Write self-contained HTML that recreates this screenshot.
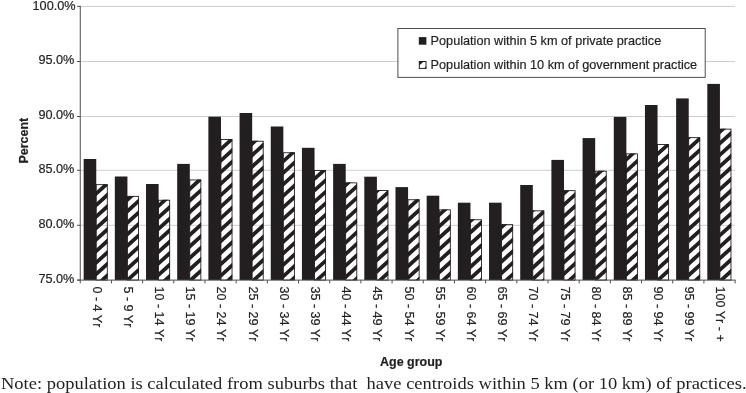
<!DOCTYPE html>
<html><head><meta charset="utf-8"><title>Chart</title>
<style>html,body{margin:0;padding:0;background:#fff}svg{display:block}text{font-family:"Liberation Sans",sans-serif;fill:#231f20;stroke:#231f20;stroke-width:0.2px}</style></head>
<body>
<svg width="746" height="393" viewBox="0 0 746 393">
<rect width="746" height="393" fill="#fff"/>
<line x1="80.25" y1="6.36" x2="735.10" y2="6.36" stroke="#c2c2c2" stroke-width="0.8"/>
<line x1="80.25" y1="61.50" x2="735.10" y2="61.50" stroke="#c2c2c2" stroke-width="0.8"/>
<line x1="80.25" y1="116.50" x2="735.10" y2="116.50" stroke="#c2c2c2" stroke-width="0.8"/>
<line x1="80.25" y1="170.30" x2="735.10" y2="170.30" stroke="#c2c2c2" stroke-width="0.8"/>
<line x1="80.25" y1="225.30" x2="735.10" y2="225.30" stroke="#c2c2c2" stroke-width="0.8"/>
<clipPath id="c0"><rect x="95.75" y="184.20" width="12.00" height="95.90"/></clipPath>
<path clip-path="url(#c0)" d="M95.75 157.00L107.75 146.07L107.75 151.17L95.75 162.10zM95.75 168.50L107.75 157.57L107.75 162.67L95.75 173.60zM95.75 180.00L107.75 169.07L107.75 174.17L95.75 185.10zM95.75 191.50L107.75 180.57L107.75 185.67L95.75 196.60zM95.75 203.00L107.75 192.07L107.75 197.17L95.75 208.10zM95.75 214.50L107.75 203.57L107.75 208.67L95.75 219.60zM95.75 226.00L107.75 215.07L107.75 220.17L95.75 231.10zM95.75 237.50L107.75 226.57L107.75 231.67L95.75 242.60zM95.75 249.00L107.75 238.07L107.75 243.17L95.75 254.10zM95.75 260.50L107.75 249.57L107.75 254.67L95.75 265.60zM95.75 272.00L107.75 261.07L107.75 266.17L95.75 277.10zM95.75 283.50L107.75 272.57L107.75 277.67L95.75 288.60z" fill="#231f20"/>
<rect x="96.20" y="184.65" width="11.10" height="95.45" fill="none" stroke="#231f20" stroke-width="0.9"/>
<rect x="83.65" y="159.00" width="12.60" height="121.10" fill="#231f20"/>
<clipPath id="c1"><rect x="126.93" y="195.90" width="12.00" height="84.20"/></clipPath>
<path clip-path="url(#c1)" d="M126.93 174.61L138.93 163.68L138.93 168.78L126.93 179.71zM126.93 186.11L138.93 175.18L138.93 180.28L126.93 191.21zM126.93 197.61L138.93 186.68L138.93 191.78L126.93 202.71zM126.93 209.11L138.93 198.18L138.93 203.28L126.93 214.21zM126.93 220.61L138.93 209.68L138.93 214.78L126.93 225.71zM126.93 232.11L138.93 221.18L138.93 226.28L126.93 237.21zM126.93 243.61L138.93 232.68L138.93 237.78L126.93 248.71zM126.93 255.11L138.93 244.18L138.93 249.28L126.93 260.21zM126.93 266.61L138.93 255.68L138.93 260.78L126.93 271.71zM126.93 278.11L138.93 267.18L138.93 272.28L126.93 283.21zM126.93 289.61L138.93 278.68L138.93 283.78L126.93 294.71z" fill="#231f20"/>
<rect x="127.38" y="196.35" width="11.10" height="83.75" fill="none" stroke="#231f20" stroke-width="0.9"/>
<rect x="114.83" y="176.50" width="12.60" height="103.60" fill="#231f20"/>
<clipPath id="c2"><rect x="158.12" y="199.80" width="12.00" height="80.30"/></clipPath>
<path clip-path="url(#c2)" d="M158.12 180.72L170.12 169.79L170.12 174.89L158.12 185.82zM158.12 192.22L170.12 181.29L170.12 186.39L158.12 197.32zM158.12 203.72L170.12 192.79L170.12 197.89L158.12 208.82zM158.12 215.22L170.12 204.29L170.12 209.39L158.12 220.32zM158.12 226.72L170.12 215.79L170.12 220.89L158.12 231.82zM158.12 238.22L170.12 227.29L170.12 232.39L158.12 243.32zM158.12 249.72L170.12 238.79L170.12 243.89L158.12 254.82zM158.12 261.22L170.12 250.29L170.12 255.39L158.12 266.32zM158.12 272.72L170.12 261.79L170.12 266.89L158.12 277.82zM158.12 284.22L170.12 273.29L170.12 278.39L158.12 289.32z" fill="#231f20"/>
<rect x="158.57" y="200.25" width="11.10" height="79.85" fill="none" stroke="#231f20" stroke-width="0.9"/>
<rect x="146.02" y="184.00" width="12.60" height="96.10" fill="#231f20"/>
<clipPath id="c3"><rect x="189.30" y="179.50" width="12.00" height="100.60"/></clipPath>
<path clip-path="url(#c3)" d="M189.30 152.33L201.30 141.40L201.30 146.50L189.30 157.43zM189.30 163.83L201.30 152.90L201.30 158.00L189.30 168.93zM189.30 175.33L201.30 164.40L201.30 169.50L189.30 180.43zM189.30 186.83L201.30 175.90L201.30 181.00L189.30 191.93zM189.30 198.33L201.30 187.40L201.30 192.50L189.30 203.43zM189.30 209.83L201.30 198.90L201.30 204.00L189.30 214.93zM189.30 221.33L201.30 210.40L201.30 215.50L189.30 226.43zM189.30 232.83L201.30 221.90L201.30 227.00L189.30 237.93zM189.30 244.33L201.30 233.40L201.30 238.50L189.30 249.43zM189.30 255.83L201.30 244.90L201.30 250.00L189.30 260.93zM189.30 267.33L201.30 256.40L201.30 261.50L189.30 272.43zM189.30 278.83L201.30 267.90L201.30 273.00L189.30 283.93zM189.30 290.33L201.30 279.40L201.30 284.50L189.30 295.43z" fill="#231f20"/>
<rect x="189.75" y="179.95" width="11.10" height="100.15" fill="none" stroke="#231f20" stroke-width="0.9"/>
<rect x="177.20" y="163.90" width="12.60" height="116.20" fill="#231f20"/>
<clipPath id="c4"><rect x="220.48" y="139.10" width="12.00" height="141.00"/></clipPath>
<path clip-path="url(#c4)" d="M220.48 112.44L232.48 101.51L232.48 106.61L220.48 117.54zM220.48 123.94L232.48 113.01L232.48 118.11L220.48 129.04zM220.48 135.44L232.48 124.51L232.48 129.61L220.48 140.54zM220.48 146.94L232.48 136.01L232.48 141.11L220.48 152.04zM220.48 158.44L232.48 147.51L232.48 152.61L220.48 163.54zM220.48 169.94L232.48 159.01L232.48 164.11L220.48 175.04zM220.48 181.44L232.48 170.51L232.48 175.61L220.48 186.54zM220.48 192.94L232.48 182.01L232.48 187.11L220.48 198.04zM220.48 204.44L232.48 193.51L232.48 198.61L220.48 209.54zM220.48 215.94L232.48 205.01L232.48 210.11L220.48 221.04zM220.48 227.44L232.48 216.51L232.48 221.61L220.48 232.54zM220.48 238.94L232.48 228.01L232.48 233.11L220.48 244.04zM220.48 250.44L232.48 239.51L232.48 244.61L220.48 255.54zM220.48 261.94L232.48 251.01L232.48 256.11L220.48 267.04zM220.48 273.44L232.48 262.51L232.48 267.61L220.48 278.54zM220.48 284.94L232.48 274.01L232.48 279.11L220.48 290.04z" fill="#231f20"/>
<rect x="220.93" y="139.55" width="11.10" height="140.55" fill="none" stroke="#231f20" stroke-width="0.9"/>
<rect x="208.38" y="116.70" width="12.60" height="163.40" fill="#231f20"/>
<clipPath id="c5"><rect x="251.67" y="140.80" width="12.00" height="139.30"/></clipPath>
<path clip-path="url(#c5)" d="M251.67 118.55L263.67 107.62L263.67 112.72L251.67 123.65zM251.67 130.05L263.67 119.12L263.67 124.22L251.67 135.15zM251.67 141.55L263.67 130.62L263.67 135.72L251.67 146.65zM251.67 153.05L263.67 142.12L263.67 147.22L251.67 158.15zM251.67 164.55L263.67 153.62L263.67 158.72L251.67 169.65zM251.67 176.05L263.67 165.12L263.67 170.22L251.67 181.15zM251.67 187.55L263.67 176.62L263.67 181.72L251.67 192.65zM251.67 199.05L263.67 188.12L263.67 193.22L251.67 204.15zM251.67 210.55L263.67 199.62L263.67 204.72L251.67 215.65zM251.67 222.05L263.67 211.12L263.67 216.22L251.67 227.15zM251.67 233.55L263.67 222.62L263.67 227.72L251.67 238.65zM251.67 245.05L263.67 234.12L263.67 239.22L251.67 250.15zM251.67 256.55L263.67 245.62L263.67 250.72L251.67 261.65zM251.67 268.05L263.67 257.12L263.67 262.22L251.67 273.15zM251.67 279.55L263.67 268.62L263.67 273.72L251.67 284.65zM251.67 291.05L263.67 280.12L263.67 285.22L251.67 296.15z" fill="#231f20"/>
<rect x="252.12" y="141.25" width="11.10" height="138.85" fill="none" stroke="#231f20" stroke-width="0.9"/>
<rect x="239.57" y="113.00" width="12.60" height="167.10" fill="#231f20"/>
<clipPath id="c6"><rect x="282.85" y="152.30" width="12.00" height="127.80"/></clipPath>
<path clip-path="url(#c6)" d="M282.85 124.66L294.85 113.73L294.85 118.83L282.85 129.76zM282.85 136.16L294.85 125.23L294.85 130.33L282.85 141.26zM282.85 147.66L294.85 136.73L294.85 141.83L282.85 152.76zM282.85 159.16L294.85 148.23L294.85 153.33L282.85 164.26zM282.85 170.66L294.85 159.73L294.85 164.83L282.85 175.76zM282.85 182.16L294.85 171.23L294.85 176.33L282.85 187.26zM282.85 193.66L294.85 182.73L294.85 187.83L282.85 198.76zM282.85 205.16L294.85 194.23L294.85 199.33L282.85 210.26zM282.85 216.66L294.85 205.73L294.85 210.83L282.85 221.76zM282.85 228.16L294.85 217.23L294.85 222.33L282.85 233.26zM282.85 239.66L294.85 228.73L294.85 233.83L282.85 244.76zM282.85 251.16L294.85 240.23L294.85 245.33L282.85 256.26zM282.85 262.66L294.85 251.73L294.85 256.83L282.85 267.76zM282.85 274.16L294.85 263.23L294.85 268.33L282.85 279.26zM282.85 285.66L294.85 274.73L294.85 279.83L282.85 290.76z" fill="#231f20"/>
<rect x="283.30" y="152.75" width="11.10" height="127.35" fill="none" stroke="#231f20" stroke-width="0.9"/>
<rect x="270.75" y="126.50" width="12.60" height="153.60" fill="#231f20"/>
<clipPath id="c7"><rect x="314.03" y="170.00" width="12.00" height="110.10"/></clipPath>
<path clip-path="url(#c7)" d="M314.03 142.27L326.03 131.35L326.03 136.45L314.03 147.37zM314.03 153.77L326.03 142.85L326.03 147.95L314.03 158.87zM314.03 165.27L326.03 154.35L326.03 159.45L314.03 170.37zM314.03 176.77L326.03 165.85L326.03 170.95L314.03 181.87zM314.03 188.27L326.03 177.35L326.03 182.45L314.03 193.37zM314.03 199.77L326.03 188.85L326.03 193.95L314.03 204.87zM314.03 211.27L326.03 200.35L326.03 205.45L314.03 216.37zM314.03 222.77L326.03 211.85L326.03 216.95L314.03 227.87zM314.03 234.27L326.03 223.35L326.03 228.45L314.03 239.37zM314.03 245.77L326.03 234.85L326.03 239.95L314.03 250.87zM314.03 257.27L326.03 246.35L326.03 251.45L314.03 262.37zM314.03 268.77L326.03 257.85L326.03 262.95L314.03 273.87zM314.03 280.27L326.03 269.35L326.03 274.45L314.03 285.37zM314.03 291.77L326.03 280.85L326.03 285.95L314.03 296.87z" fill="#231f20"/>
<rect x="314.48" y="170.45" width="11.10" height="109.65" fill="none" stroke="#231f20" stroke-width="0.9"/>
<rect x="301.93" y="147.80" width="12.60" height="132.30" fill="#231f20"/>
<clipPath id="c8"><rect x="345.22" y="182.40" width="12.00" height="97.70"/></clipPath>
<path clip-path="url(#c8)" d="M345.22 159.88L357.22 148.96L357.22 154.06L345.22 164.98zM345.22 171.38L357.22 160.46L357.22 165.56L345.22 176.48zM345.22 182.88L357.22 171.96L357.22 177.06L345.22 187.98zM345.22 194.38L357.22 183.46L357.22 188.56L345.22 199.48zM345.22 205.88L357.22 194.96L357.22 200.06L345.22 210.98zM345.22 217.38L357.22 206.46L357.22 211.56L345.22 222.48zM345.22 228.88L357.22 217.96L357.22 223.06L345.22 233.98zM345.22 240.38L357.22 229.46L357.22 234.56L345.22 245.48zM345.22 251.88L357.22 240.96L357.22 246.06L345.22 256.98zM345.22 263.38L357.22 252.46L357.22 257.56L345.22 268.48zM345.22 274.88L357.22 263.96L357.22 269.06L345.22 279.98zM345.22 286.38L357.22 275.46L357.22 280.56L345.22 291.48z" fill="#231f20"/>
<rect x="345.67" y="182.85" width="11.10" height="97.25" fill="none" stroke="#231f20" stroke-width="0.9"/>
<rect x="333.12" y="163.90" width="12.60" height="116.20" fill="#231f20"/>
<clipPath id="c9"><rect x="376.40" y="190.10" width="12.00" height="90.00"/></clipPath>
<path clip-path="url(#c9)" d="M376.40 165.99L388.40 155.07L388.40 160.17L376.40 171.09zM376.40 177.49L388.40 166.57L388.40 171.67L376.40 182.59zM376.40 188.99L388.40 178.07L388.40 183.17L376.40 194.09zM376.40 200.49L388.40 189.57L388.40 194.67L376.40 205.59zM376.40 211.99L388.40 201.07L388.40 206.17L376.40 217.09zM376.40 223.49L388.40 212.57L388.40 217.67L376.40 228.59zM376.40 234.99L388.40 224.07L388.40 229.17L376.40 240.09zM376.40 246.49L388.40 235.57L388.40 240.67L376.40 251.59zM376.40 257.99L388.40 247.07L388.40 252.17L376.40 263.09zM376.40 269.49L388.40 258.57L388.40 263.67L376.40 274.59zM376.40 280.99L388.40 270.07L388.40 275.17L376.40 286.09zM376.40 292.49L388.40 281.57L388.40 286.67L376.40 297.59z" fill="#231f20"/>
<rect x="376.85" y="190.55" width="11.10" height="89.55" fill="none" stroke="#231f20" stroke-width="0.9"/>
<rect x="364.30" y="176.70" width="12.60" height="103.40" fill="#231f20"/>
<clipPath id="c10"><rect x="407.58" y="199.30" width="12.00" height="80.80"/></clipPath>
<path clip-path="url(#c10)" d="M407.58 172.10L419.58 161.18L419.58 166.28L407.58 177.20zM407.58 183.60L419.58 172.68L419.58 177.78L407.58 188.70zM407.58 195.10L419.58 184.18L419.58 189.28L407.58 200.20zM407.58 206.60L419.58 195.68L419.58 200.78L407.58 211.70zM407.58 218.10L419.58 207.18L419.58 212.28L407.58 223.20zM407.58 229.60L419.58 218.68L419.58 223.78L407.58 234.70zM407.58 241.10L419.58 230.18L419.58 235.28L407.58 246.20zM407.58 252.60L419.58 241.68L419.58 246.78L407.58 257.70zM407.58 264.10L419.58 253.18L419.58 258.28L407.58 269.20zM407.58 275.60L419.58 264.68L419.58 269.78L407.58 280.70zM407.58 287.10L419.58 276.18L419.58 281.28L407.58 292.20z" fill="#231f20"/>
<rect x="408.03" y="199.75" width="11.10" height="80.35" fill="none" stroke="#231f20" stroke-width="0.9"/>
<rect x="395.48" y="187.10" width="12.60" height="93.00" fill="#231f20"/>
<clipPath id="c11"><rect x="438.77" y="209.40" width="12.00" height="70.70"/></clipPath>
<path clip-path="url(#c11)" d="M438.77 189.71L450.77 178.79L450.77 183.89L438.77 194.81zM438.77 201.21L450.77 190.29L450.77 195.39L438.77 206.31zM438.77 212.71L450.77 201.79L450.77 206.89L438.77 217.81zM438.77 224.21L450.77 213.29L450.77 218.39L438.77 229.31zM438.77 235.71L450.77 224.79L450.77 229.89L438.77 240.81zM438.77 247.21L450.77 236.29L450.77 241.39L438.77 252.31zM438.77 258.71L450.77 247.79L450.77 252.89L438.77 263.81zM438.77 270.21L450.77 259.29L450.77 264.39L438.77 275.31zM438.77 281.71L450.77 270.79L450.77 275.89L438.77 286.81z" fill="#231f20"/>
<rect x="439.22" y="209.85" width="11.10" height="70.25" fill="none" stroke="#231f20" stroke-width="0.9"/>
<rect x="426.67" y="195.70" width="12.60" height="84.40" fill="#231f20"/>
<clipPath id="c12"><rect x="469.95" y="219.30" width="12.00" height="60.80"/></clipPath>
<path clip-path="url(#c12)" d="M469.95 195.82L481.95 184.90L481.95 190.00L469.95 200.92zM469.95 207.32L481.95 196.40L481.95 201.50L469.95 212.42zM469.95 218.82L481.95 207.90L481.95 213.00L469.95 223.92zM469.95 230.32L481.95 219.40L481.95 224.50L469.95 235.42zM469.95 241.82L481.95 230.90L481.95 236.00L469.95 246.92zM469.95 253.32L481.95 242.40L481.95 247.50L469.95 258.42zM469.95 264.82L481.95 253.90L481.95 259.00L469.95 269.92zM469.95 276.32L481.95 265.40L481.95 270.50L469.95 281.42zM469.95 287.82L481.95 276.90L481.95 282.00L469.95 292.92z" fill="#231f20"/>
<rect x="470.40" y="219.75" width="11.10" height="60.35" fill="none" stroke="#231f20" stroke-width="0.9"/>
<rect x="457.85" y="202.70" width="12.60" height="77.40" fill="#231f20"/>
<clipPath id="c13"><rect x="501.13" y="224.20" width="12.00" height="55.90"/></clipPath>
<path clip-path="url(#c13)" d="M501.13 201.93L513.13 191.01L513.13 196.11L501.13 207.03zM501.13 213.43L513.13 202.51L513.13 207.61L501.13 218.53zM501.13 224.93L513.13 214.01L513.13 219.11L501.13 230.03zM501.13 236.43L513.13 225.51L513.13 230.61L501.13 241.53zM501.13 247.93L513.13 237.01L513.13 242.11L501.13 253.03zM501.13 259.43L513.13 248.51L513.13 253.61L501.13 264.53zM501.13 270.93L513.13 260.01L513.13 265.11L501.13 276.03zM501.13 282.43L513.13 271.51L513.13 276.61L501.13 287.53z" fill="#231f20"/>
<rect x="501.58" y="224.65" width="11.10" height="55.45" fill="none" stroke="#231f20" stroke-width="0.9"/>
<rect x="489.03" y="202.70" width="12.60" height="77.40" fill="#231f20"/>
<clipPath id="c14"><rect x="532.32" y="210.40" width="12.00" height="69.70"/></clipPath>
<path clip-path="url(#c14)" d="M532.32 185.05L544.32 174.12L544.32 179.22L532.32 190.15zM532.32 196.55L544.32 185.62L544.32 190.72L532.32 201.65zM532.32 208.05L544.32 197.12L544.32 202.22L532.32 213.15zM532.32 219.55L544.32 208.62L544.32 213.72L532.32 224.65zM532.32 231.05L544.32 220.12L544.32 225.22L532.32 236.15zM532.32 242.55L544.32 231.62L544.32 236.72L532.32 247.65zM532.32 254.05L544.32 243.12L544.32 248.22L532.32 259.15zM532.32 265.55L544.32 254.62L544.32 259.72L532.32 270.65zM532.32 277.05L544.32 266.12L544.32 271.22L532.32 282.15zM532.32 288.55L544.32 277.62L544.32 282.72L532.32 293.65z" fill="#231f20"/>
<rect x="532.77" y="210.85" width="11.10" height="69.25" fill="none" stroke="#231f20" stroke-width="0.9"/>
<rect x="520.22" y="185.00" width="12.60" height="95.10" fill="#231f20"/>
<clipPath id="c15"><rect x="563.50" y="190.20" width="12.00" height="89.90"/></clipPath>
<path clip-path="url(#c15)" d="M563.50 168.16L575.50 157.23L575.50 162.33L563.50 173.26zM563.50 179.66L575.50 168.73L575.50 173.83L563.50 184.76zM563.50 191.16L575.50 180.23L575.50 185.33L563.50 196.26zM563.50 202.66L575.50 191.73L575.50 196.83L563.50 207.76zM563.50 214.16L575.50 203.23L575.50 208.33L563.50 219.26zM563.50 225.66L575.50 214.73L575.50 219.83L563.50 230.76zM563.50 237.16L575.50 226.23L575.50 231.33L563.50 242.26zM563.50 248.66L575.50 237.73L575.50 242.83L563.50 253.76zM563.50 260.16L575.50 249.23L575.50 254.33L563.50 265.26zM563.50 271.66L575.50 260.73L575.50 265.83L563.50 276.76zM563.50 283.16L575.50 272.23L575.50 277.33L563.50 288.26z" fill="#231f20"/>
<rect x="563.95" y="190.65" width="11.10" height="89.45" fill="none" stroke="#231f20" stroke-width="0.9"/>
<rect x="551.40" y="159.90" width="12.60" height="120.20" fill="#231f20"/>
<clipPath id="c16"><rect x="594.68" y="170.80" width="12.00" height="109.30"/></clipPath>
<path clip-path="url(#c16)" d="M594.68 151.27L606.68 140.34L606.68 145.44L594.68 156.37zM594.68 162.77L606.68 151.84L606.68 156.94L594.68 167.87zM594.68 174.27L606.68 163.34L606.68 168.44L594.68 179.37zM594.68 185.77L606.68 174.84L606.68 179.94L594.68 190.87zM594.68 197.27L606.68 186.34L606.68 191.44L594.68 202.37zM594.68 208.77L606.68 197.84L606.68 202.94L594.68 213.87zM594.68 220.27L606.68 209.34L606.68 214.44L594.68 225.37zM594.68 231.77L606.68 220.84L606.68 225.94L594.68 236.87zM594.68 243.27L606.68 232.34L606.68 237.44L594.68 248.37zM594.68 254.77L606.68 243.84L606.68 248.94L594.68 259.87zM594.68 266.27L606.68 255.34L606.68 260.44L594.68 271.37zM594.68 277.77L606.68 266.84L606.68 271.94L594.68 282.87zM594.68 289.27L606.68 278.34L606.68 283.44L594.68 294.37z" fill="#231f20"/>
<rect x="595.13" y="171.25" width="11.10" height="108.85" fill="none" stroke="#231f20" stroke-width="0.9"/>
<rect x="582.58" y="138.10" width="12.60" height="142.00" fill="#231f20"/>
<clipPath id="c17"><rect x="625.87" y="153.40" width="12.00" height="126.70"/></clipPath>
<path clip-path="url(#c17)" d="M625.87 134.38L637.87 123.45L637.87 128.55L625.87 139.48zM625.87 145.88L637.87 134.95L637.87 140.05L625.87 150.98zM625.87 157.38L637.87 146.45L637.87 151.55L625.87 162.48zM625.87 168.88L637.87 157.95L637.87 163.05L625.87 173.98zM625.87 180.38L637.87 169.45L637.87 174.55L625.87 185.48zM625.87 191.88L637.87 180.95L637.87 186.05L625.87 196.98zM625.87 203.38L637.87 192.45L637.87 197.55L625.87 208.48zM625.87 214.88L637.87 203.95L637.87 209.05L625.87 219.98zM625.87 226.38L637.87 215.45L637.87 220.55L625.87 231.48zM625.87 237.88L637.87 226.95L637.87 232.05L625.87 242.98zM625.87 249.38L637.87 238.45L637.87 243.55L625.87 254.48zM625.87 260.88L637.87 249.95L637.87 255.05L625.87 265.98zM625.87 272.38L637.87 261.45L637.87 266.55L625.87 277.48zM625.87 283.88L637.87 272.95L637.87 278.05L625.87 288.98z" fill="#231f20"/>
<rect x="626.32" y="153.85" width="11.10" height="126.25" fill="none" stroke="#231f20" stroke-width="0.9"/>
<rect x="613.77" y="116.90" width="12.60" height="163.20" fill="#231f20"/>
<clipPath id="c18"><rect x="657.05" y="144.00" width="12.00" height="136.10"/></clipPath>
<path clip-path="url(#c18)" d="M657.05 117.49L669.05 106.56L669.05 111.66L657.05 122.59zM657.05 128.99L669.05 118.06L669.05 123.16L657.05 134.09zM657.05 140.49L669.05 129.56L669.05 134.66L657.05 145.59zM657.05 151.99L669.05 141.06L669.05 146.16L657.05 157.09zM657.05 163.49L669.05 152.56L669.05 157.66L657.05 168.59zM657.05 174.99L669.05 164.06L669.05 169.16L657.05 180.09zM657.05 186.49L669.05 175.56L669.05 180.66L657.05 191.59zM657.05 197.99L669.05 187.06L669.05 192.16L657.05 203.09zM657.05 209.49L669.05 198.56L669.05 203.66L657.05 214.59zM657.05 220.99L669.05 210.06L669.05 215.16L657.05 226.09zM657.05 232.49L669.05 221.56L669.05 226.66L657.05 237.59zM657.05 243.99L669.05 233.06L669.05 238.16L657.05 249.09zM657.05 255.49L669.05 244.56L669.05 249.66L657.05 260.59zM657.05 266.99L669.05 256.06L669.05 261.16L657.05 272.09zM657.05 278.49L669.05 267.56L669.05 272.66L657.05 283.59zM657.05 289.99L669.05 279.06L669.05 284.16L657.05 295.09z" fill="#231f20"/>
<rect x="657.50" y="144.45" width="11.10" height="135.65" fill="none" stroke="#231f20" stroke-width="0.9"/>
<rect x="644.95" y="105.00" width="12.60" height="175.10" fill="#231f20"/>
<clipPath id="c19"><rect x="688.23" y="137.20" width="12.00" height="142.90"/></clipPath>
<path clip-path="url(#c19)" d="M688.23 112.10L700.23 101.17L700.23 106.27L688.23 117.20zM688.23 123.60L700.23 112.67L700.23 117.77L688.23 128.70zM688.23 135.10L700.23 124.17L700.23 129.27L688.23 140.20zM688.23 146.60L700.23 135.67L700.23 140.77L688.23 151.70zM688.23 158.10L700.23 147.17L700.23 152.27L688.23 163.20zM688.23 169.60L700.23 158.67L700.23 163.77L688.23 174.70zM688.23 181.10L700.23 170.17L700.23 175.27L688.23 186.20zM688.23 192.60L700.23 181.67L700.23 186.77L688.23 197.70zM688.23 204.10L700.23 193.17L700.23 198.27L688.23 209.20zM688.23 215.60L700.23 204.67L700.23 209.77L688.23 220.70zM688.23 227.10L700.23 216.17L700.23 221.27L688.23 232.20zM688.23 238.60L700.23 227.67L700.23 232.77L688.23 243.70zM688.23 250.10L700.23 239.17L700.23 244.27L688.23 255.20zM688.23 261.60L700.23 250.67L700.23 255.77L688.23 266.70zM688.23 273.10L700.23 262.17L700.23 267.27L688.23 278.20zM688.23 284.60L700.23 273.67L700.23 278.77L688.23 289.70z" fill="#231f20"/>
<rect x="688.68" y="137.65" width="11.10" height="142.45" fill="none" stroke="#231f20" stroke-width="0.9"/>
<rect x="676.13" y="98.40" width="12.60" height="181.70" fill="#231f20"/>
<clipPath id="c20"><rect x="719.42" y="128.70" width="12.00" height="151.40"/></clipPath>
<path clip-path="url(#c20)" d="M719.42 106.71L731.42 95.78L731.42 100.88L719.42 111.81zM719.42 118.21L731.42 107.28L731.42 112.38L719.42 123.31zM719.42 129.71L731.42 118.78L731.42 123.88L719.42 134.81zM719.42 141.21L731.42 130.28L731.42 135.38L719.42 146.31zM719.42 152.71L731.42 141.78L731.42 146.88L719.42 157.81zM719.42 164.21L731.42 153.28L731.42 158.38L719.42 169.31zM719.42 175.71L731.42 164.78L731.42 169.88L719.42 180.81zM719.42 187.21L731.42 176.28L731.42 181.38L719.42 192.31zM719.42 198.71L731.42 187.78L731.42 192.88L719.42 203.81zM719.42 210.21L731.42 199.28L731.42 204.38L719.42 215.31zM719.42 221.71L731.42 210.78L731.42 215.88L719.42 226.81zM719.42 233.21L731.42 222.28L731.42 227.38L719.42 238.31zM719.42 244.71L731.42 233.78L731.42 238.88L719.42 249.81zM719.42 256.21L731.42 245.28L731.42 250.38L719.42 261.31zM719.42 267.71L731.42 256.78L731.42 261.88L719.42 272.81zM719.42 279.21L731.42 268.28L731.42 273.38L719.42 284.31zM719.42 290.71L731.42 279.78L731.42 284.88L719.42 295.81z" fill="#231f20"/>
<rect x="719.87" y="129.15" width="11.10" height="150.95" fill="none" stroke="#231f20" stroke-width="0.9"/>
<rect x="707.32" y="83.90" width="12.60" height="196.20" fill="#231f20"/>
<line x1="80.25" y1="5.85" x2="80.25" y2="280.60" stroke="#4d4d4f" stroke-width="1"/>
<line x1="77.05" y1="280.10" x2="735.60" y2="280.10" stroke="#4d4d4f" stroke-width="1"/>
<line x1="77.05" y1="6.36" x2="80.25" y2="6.36" stroke="#4d4d4f" stroke-width="1"/>
<text x="75.60" y="9.76" font-size="12.7" text-anchor="end">100.0%</text>
<line x1="77.05" y1="61.50" x2="80.25" y2="61.50" stroke="#4d4d4f" stroke-width="1"/>
<text x="74.40" y="64.30" font-size="12.7" text-anchor="end">95.0%</text>
<line x1="77.05" y1="116.50" x2="80.25" y2="116.50" stroke="#4d4d4f" stroke-width="1"/>
<text x="74.40" y="119.30" font-size="12.7" text-anchor="end">90.0%</text>
<line x1="77.05" y1="170.30" x2="80.25" y2="170.30" stroke="#4d4d4f" stroke-width="1"/>
<text x="74.40" y="173.10" font-size="12.7" text-anchor="end">85.0%</text>
<line x1="77.05" y1="225.30" x2="80.25" y2="225.30" stroke="#4d4d4f" stroke-width="1"/>
<text x="74.40" y="228.10" font-size="12.7" text-anchor="end">80.0%</text>
<line x1="77.05" y1="280.10" x2="80.25" y2="280.10" stroke="#4d4d4f" stroke-width="1"/>
<text x="74.40" y="282.90" font-size="12.7" text-anchor="end">75.0%</text>
<line x1="80.25" y1="280.10" x2="80.25" y2="283.40" stroke="#4d4d4f" stroke-width="1"/>
<line x1="111.43" y1="280.10" x2="111.43" y2="283.40" stroke="#4d4d4f" stroke-width="1"/>
<line x1="142.62" y1="280.10" x2="142.62" y2="283.40" stroke="#4d4d4f" stroke-width="1"/>
<line x1="173.80" y1="280.10" x2="173.80" y2="283.40" stroke="#4d4d4f" stroke-width="1"/>
<line x1="204.98" y1="280.10" x2="204.98" y2="283.40" stroke="#4d4d4f" stroke-width="1"/>
<line x1="236.17" y1="280.10" x2="236.17" y2="283.40" stroke="#4d4d4f" stroke-width="1"/>
<line x1="267.35" y1="280.10" x2="267.35" y2="283.40" stroke="#4d4d4f" stroke-width="1"/>
<line x1="298.53" y1="280.10" x2="298.53" y2="283.40" stroke="#4d4d4f" stroke-width="1"/>
<line x1="329.72" y1="280.10" x2="329.72" y2="283.40" stroke="#4d4d4f" stroke-width="1"/>
<line x1="360.90" y1="280.10" x2="360.90" y2="283.40" stroke="#4d4d4f" stroke-width="1"/>
<line x1="392.08" y1="280.10" x2="392.08" y2="283.40" stroke="#4d4d4f" stroke-width="1"/>
<line x1="423.27" y1="280.10" x2="423.27" y2="283.40" stroke="#4d4d4f" stroke-width="1"/>
<line x1="454.45" y1="280.10" x2="454.45" y2="283.40" stroke="#4d4d4f" stroke-width="1"/>
<line x1="485.63" y1="280.10" x2="485.63" y2="283.40" stroke="#4d4d4f" stroke-width="1"/>
<line x1="516.82" y1="280.10" x2="516.82" y2="283.40" stroke="#4d4d4f" stroke-width="1"/>
<line x1="548.00" y1="280.10" x2="548.00" y2="283.40" stroke="#4d4d4f" stroke-width="1"/>
<line x1="579.18" y1="280.10" x2="579.18" y2="283.40" stroke="#4d4d4f" stroke-width="1"/>
<line x1="610.37" y1="280.10" x2="610.37" y2="283.40" stroke="#4d4d4f" stroke-width="1"/>
<line x1="641.55" y1="280.10" x2="641.55" y2="283.40" stroke="#4d4d4f" stroke-width="1"/>
<line x1="672.73" y1="280.10" x2="672.73" y2="283.40" stroke="#4d4d4f" stroke-width="1"/>
<line x1="703.92" y1="280.10" x2="703.92" y2="283.40" stroke="#4d4d4f" stroke-width="1"/>
<line x1="735.10" y1="280.10" x2="735.10" y2="283.40" stroke="#4d4d4f" stroke-width="1"/>
<text transform="translate(92.75 286.4) rotate(90)" font-size="12.6">0 - 4 Yr</text>
<text transform="translate(123.93 286.4) rotate(90)" font-size="12.6">5 - 9 Yr</text>
<text transform="translate(155.12 286.4) rotate(90)" font-size="12.6">10 - 14 Yr</text>
<text transform="translate(186.30 286.4) rotate(90)" font-size="12.6">15 - 19 Yr</text>
<text transform="translate(217.48 286.4) rotate(90)" font-size="12.6">20 - 24 Yr</text>
<text transform="translate(248.67 286.4) rotate(90)" font-size="12.6">25 - 29 Yr</text>
<text transform="translate(279.85 286.4) rotate(90)" font-size="12.6">30 - 34 Yr</text>
<text transform="translate(311.03 286.4) rotate(90)" font-size="12.6">35 - 39 Yr</text>
<text transform="translate(342.22 286.4) rotate(90)" font-size="12.6">40 - 44 Yr</text>
<text transform="translate(373.40 286.4) rotate(90)" font-size="12.6">45 - 49 Yr</text>
<text transform="translate(404.58 286.4) rotate(90)" font-size="12.6">50 - 54 Yr</text>
<text transform="translate(435.77 286.4) rotate(90)" font-size="12.6">55 - 59 Yr</text>
<text transform="translate(466.95 286.4) rotate(90)" font-size="12.6">60 - 64 Yr</text>
<text transform="translate(498.13 286.4) rotate(90)" font-size="12.6">65 - 69 Yr</text>
<text transform="translate(529.32 286.4) rotate(90)" font-size="12.6">70 - 74 Yr</text>
<text transform="translate(560.50 286.4) rotate(90)" font-size="12.6">75 - 79 Yr</text>
<text transform="translate(591.68 286.4) rotate(90)" font-size="12.6">80 - 84 Yr</text>
<text transform="translate(622.87 286.4) rotate(90)" font-size="12.6">85 - 89 Yr</text>
<text transform="translate(654.05 286.4) rotate(90)" font-size="12.6">90 - 94 Yr</text>
<text transform="translate(685.23 286.4) rotate(90)" font-size="12.6">95 - 99 Yr</text>
<text transform="translate(716.42 286.4) rotate(90)" font-size="12.6">100 Yr - +</text>
<text transform="translate(27.8 163.6) rotate(-90)" font-size="12.5" font-weight="bold">Percent</text>
<text x="380" y="365.7" font-size="12.5" font-weight="bold">Age group</text>
<rect x="397.9" y="28.5" width="307.3" height="48.9" fill="#fff" stroke="#4d4d4f" stroke-width="1"/>
<rect x="418.8" y="37.1" width="7.6" height="7.6" fill="#231f20"/>
<text x="430.6" y="45.25" font-size="12.7">Population within 5 km of private practice</text>
<rect x="419.3" y="61.5" width="6.7" height="6.9" fill="#fff" stroke="#231f20" stroke-width="1"/>
<path d="M419.2 61.4h4.6l-4.6 4.1zM426.2 68.6v-2.2l-2.4 2.2z" fill="#231f20"/>
<text x="430.6" y="69.35" font-size="12.7">Population within 10 km of government practice</text>
<text transform="translate(1.0 388.6) scale(1.051 1)" font-size="17.6" style="font-family:'Liberation Serif',serif;white-space:pre;stroke:none" xml:space="preserve">Note: population is calculated from suburbs that  have centroids within 5 km (or 10 km) of practices.</text>
</svg></body></html>
